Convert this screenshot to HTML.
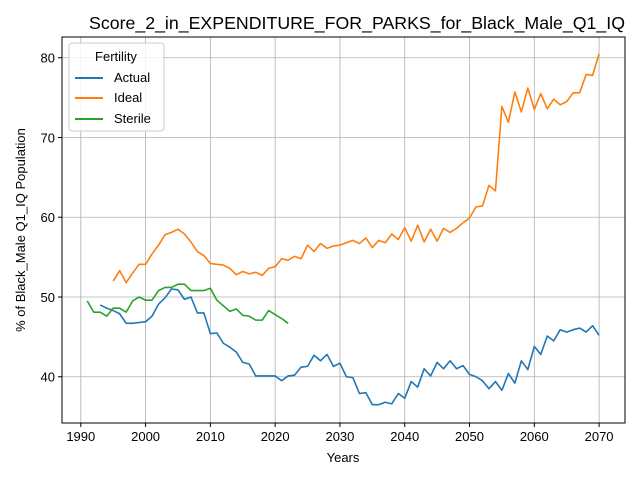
<!DOCTYPE html>
<html><head><meta charset="utf-8"><style>
body{margin:0;background:#fff;font-family:"Liberation Sans","DejaVu Sans",sans-serif}
</style></head><body>
<svg id="chart" width="640" height="480" xmlns="http://www.w3.org/2000/svg">
<rect width="640" height="480" fill="#fff"/>
<text x="357" y="29" font-size="17.5" text-anchor="middle" textLength="536" lengthAdjust="spacingAndGlyphs">Score_2_in_EXPENDITURE_FOR_PARKS_for_Black_Male_Q1_IQ</text>
<g id="grid"></g><g id="series"></g><g id="axes"></g>
<text x="343" y="462" font-size="13" text-anchor="middle">Years</text>
<text transform="translate(25,230) rotate(-90)" font-size="13" text-anchor="middle">% of Black_Male Q1_IQ Population</text>
<g>
<rect x="69" y="43" width="95" height="88" rx="3" fill="#fff" fill-opacity="0.8" stroke="#ccc"/>
<text x="116" y="61" font-size="13" text-anchor="middle">Fertility</text>
<line x1="75" y1="78" x2="103" y2="78" stroke="#1f77b4" stroke-width="2"/>
<text x="114" y="82" font-size="13">Actual</text>
<line x1="75" y1="98" x2="103" y2="98" stroke="#ff7f0e" stroke-width="2"/>
<text x="114" y="102" font-size="13">Ideal</text>
<line x1="75" y1="119" x2="103" y2="119" stroke="#2ca02c" stroke-width="2"/>
<text x="114" y="123" font-size="13">Sterile</text>
</g>
</svg>
<script>
const actualStart=1993;
const actual=[49.0,48.6,48.3,47.9,46.7,46.7,46.8,46.9,47.6,49.1,49.9,51.0,50.9,49.7,50.0,48.0,48.0,45.4,45.5,44.2,43.7,43.1,41.8,41.6,40.1,40.1,40.1,40.1,39.5,40.1,40.2,41.2,41.3,42.7,42.0,42.8,41.3,41.7,40.0,39.9,37.9,38.0,36.5,36.5,36.8,36.6,37.9,37.3,39.4,38.7,41.0,40.1,41.8,41.0,42.0,41.0,41.4,40.3,40.0,39.5,38.5,39.4,38.3,40.4,39.2,42.0,40.9,43.8,42.8,45.1,44.5,45.9,45.6,45.9,46.1,45.6,46.4,45.2];
const idealStart=1995;
const ideal=[52.0,53.3,51.8,53.0,54.1,54.1,55.4,56.5,57.8,58.1,58.5,57.9,56.9,55.7,55.2,54.2,54.1,54.0,53.6,52.8,53.2,52.9,53.1,52.7,53.6,53.8,54.8,54.6,55.1,54.8,56.5,55.7,56.7,56.1,56.4,56.5,56.8,57.1,56.7,57.4,56.2,57.1,56.8,57.9,57.2,58.7,57.0,59.0,56.9,58.5,57.0,58.6,58.1,58.6,59.3,59.9,61.3,61.4,64.0,63.3,73.9,71.9,75.7,73.2,76.2,73.5,75.5,73.6,74.8,74.1,74.5,75.6,75.6,77.9,77.8,80.5];
const sterileStart=1991;
const sterile=[49.5,48.1,48.1,47.6,48.6,48.6,48.1,49.5,50.0,49.6,49.6,50.8,51.2,51.2,51.6,51.6,50.8,50.8,50.8,51.1,49.6,48.9,48.2,48.5,47.7,47.6,47.1,47.1,48.3,47.8,47.3,46.7];
const xTicks=[1990,2000,2010,2020,2030,2040,2050,2060,2070];
const yTicks=[40,50,60,70,80];
const L=62,R=625,T=37,B=423;
const x=v=>L+(v-1987.1)/(2074.0-1987.1)*(R-L);
const y=v=>B-(v-34.2)/(82.6-34.2)*(B-T);
const NS="http://www.w3.org/2000/svg";
function mk(t,a,p){const e=document.createElementNS(NS,t);for(const k in a)e.setAttribute(k,a[k]);p.appendChild(e);return e;}
const grid=document.getElementById('grid'),axes=document.getElementById('axes'),ser=document.getElementById('series');
xTicks.forEach(t=>{const X=x(t);
 const g=mk('line',{x1:X,x2:X,y1:T,y2:B,stroke:'#b0b0b0','stroke-width':0.8},grid);
 
 
 mk('line',{x1:X,x2:X,y1:B,y2:B+4,stroke:'#000'},axes);
 const l=mk('text',{x:X,y:B+18,'font-size':13,'text-anchor':'middle'},axes);l.textContent=t;
 
 
});
yTicks.forEach(t=>{const Y=y(t);
 const g=mk('line',{x1:L,x2:R,y1:Y,y2:Y,stroke:'#b0b0b0','stroke-width':0.8},grid);
 
 
 mk('line',{x1:L-4,x2:L,y1:Y,y2:Y,stroke:'#000'},axes);
 const l=mk('text',{x:L-7,y:Y+5,'font-size':13,'text-anchor':'end'},axes);l.textContent=t;
 
 
});
const frame=mk('rect',{x:L,y:T,width:R-L,height:B-T,fill:'none',stroke:'#000','stroke-width':1},axes);


function line(vals,start,color,name){
 const p=mk('polyline',{points:vals.map((v,i)=>x(start+i)+','+y(v)).join(' '),fill:'none',stroke:color,'stroke-width':1.6,'stroke-linejoin':'round'},ser);
 
 
}
line(actual,actualStart,'#1f77b4','actual-line');
line(ideal,idealStart,'#ff7f0e','ideal-line');
line(sterile,sterileStart,'#2ca02c','sterile-line');
</script>
</body></html>
